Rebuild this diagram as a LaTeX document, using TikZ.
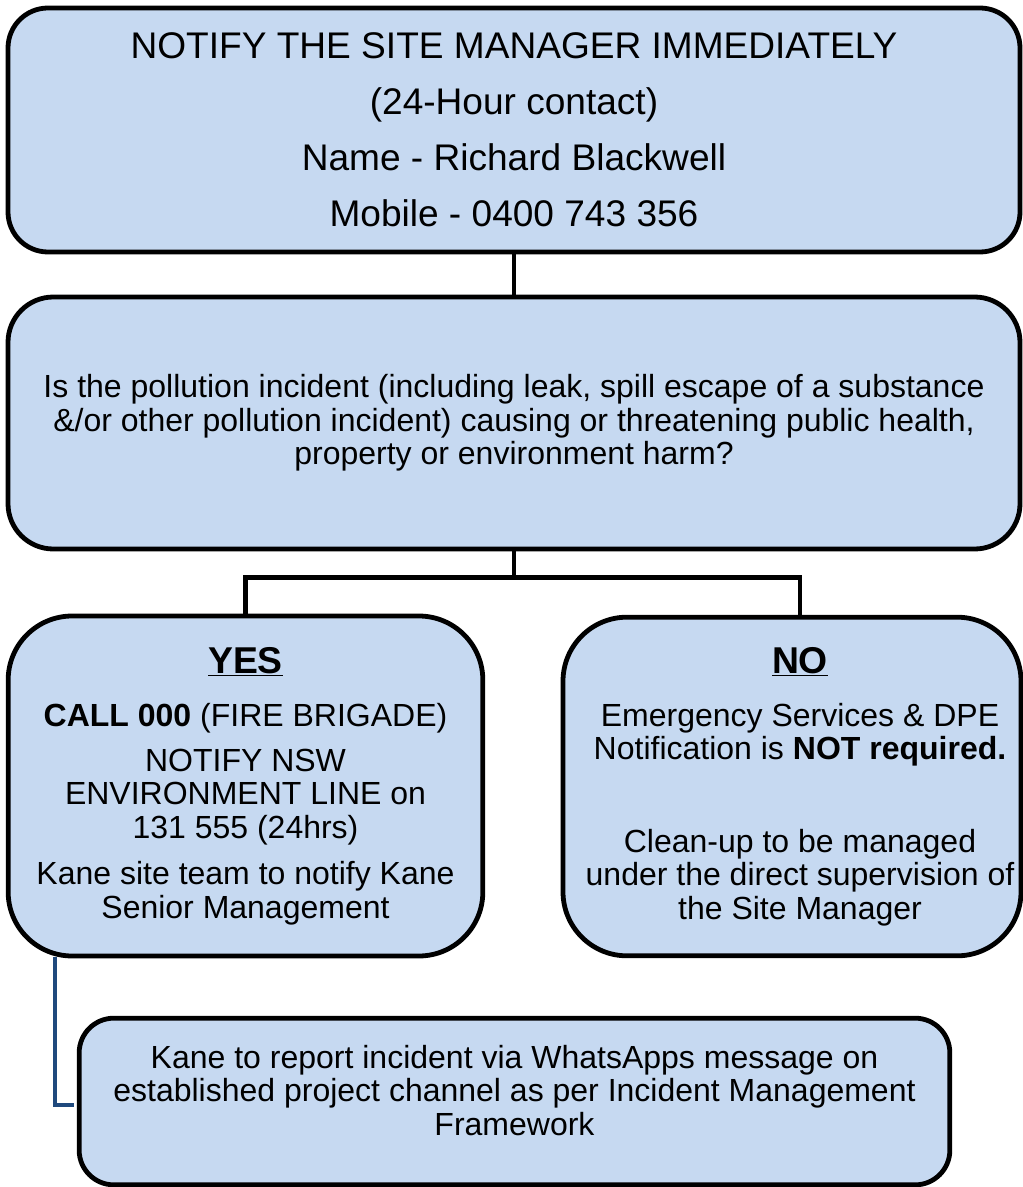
\documentclass[tikz,border=0pt]{standalone}
\usepackage{fontspec}
\setmainfont{Liberation Sans}
\usetikzlibrary{calc}

\definecolor{boxfill}{RGB}{198,217,241}
\definecolor{linkblue}{RGB}{31,73,125}

\tikzset{
  flowbox/.style={draw=black, line width=3.6pt, fill=boxfill, align=center, inner sep=0pt,
    font=\fontsize{24}{25}\selectfont},
  flowtext/.style={align=center, inner sep=0pt, font=\fontsize{24}{25}\selectfont},
  flowline/.style={draw=black, line width=3.6pt},
  linkline/.style={draw=linkblue, line width=3pt},
}

\begin{document}
\begin{tikzpicture}[x=0.75pt,y=0.75pt,yscale=-1,xscale=1]
\useasboundingbox (0,0) rectangle (1022,1187);

% Site manager box
\node (notify) [flowbox, rounded corners=30pt, minimum width=759pt, minimum height=183pt,
  font=\fontsize{27.8}{42}\selectfont] at (514,130)
  {NOTIFY THE SITE MANAGER IMMEDIATELY\\(24-Hour contact)\\Name - Richard Blackwell\\Mobile - 0400 743 356};

% Question box
\node (question) [flowbox, rounded corners=34pt, minimum width=759pt, minimum height=189pt] at (514,423)
  {Is the pollution incident (including leak, spill escape of a substance\\
   \&/or other pollution incident) causing or threatening public health,\\
   property or environment harm?};

% Yes box
\node (yes) [flowbox, rounded corners=48pt, minimum width=356pt, minimum height=255pt] at (245.5,786)
  {{\fontsize{28}{25}\selectfont\bfseries\underline{YES}}\\[15pt]
   \textbf{CALL 000} (FIRE BRIGADE)\\[8.5pt]
   NOTIFY NSW\\ENVIRONMENT LINE on\\131 555 (24hrs)\\[10pt]
   Kane site team to notify Kane\\Senior Management};

% No box, its text sits a little right of centre
\node (no) [flowbox, rounded corners=48pt, minimum width=343.5pt, minimum height=254pt] at (792,786.5) {};
\node (notext) [flowtext] at (800,786.5)
  {{\fontsize{28}{25}\selectfont\bfseries\underline{NO}}\\[15pt]
   Emergency Services \& DPE\\Notification is \textbf{NOT required.}\\[44.5pt]
   Clean-up to be managed\\under the direct supervision of\\the Site Manager};

% Report box
\node (report) [flowbox, rounded corners=26pt, minimum width=653pt, minimum height=125pt] at (514.5,1101.5)
  {Kane to report incident via WhatsApps message on\\
   established project channel as per Incident Management\\
   Framework\rule[-17pt]{0pt}{17pt}};

% Connectors
\draw [flowline] (notify.south) -- (question.north);
\draw [flowline] (question.south) -- ++(0,26) coordinate (split);
\draw [flowline] (yes.north) |- (split) -| ($(no.north)+(8,0)$);
\draw [linkline, shorten >=1.8pt] ($(yes.south west)+(49,-1)$) |- ($(report.west)+(0,3.5)$);

\end{tikzpicture}
\end{document}
